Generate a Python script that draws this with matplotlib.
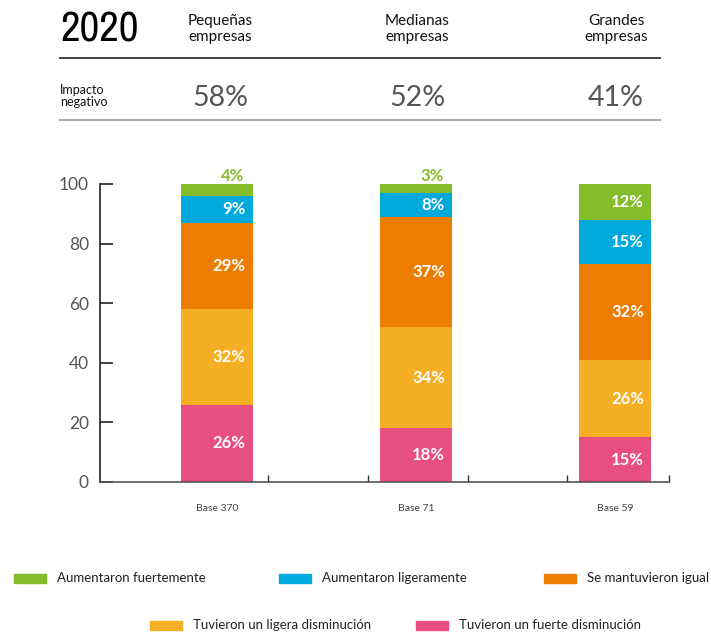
import matplotlib
matplotlib.use("Agg")
import matplotlib.pyplot as plt
from matplotlib.patches import Rectangle
from matplotlib.lines import Line2D
from matplotlib import font_manager
import numpy as np

plt.rcParams['font.family'] = ['Lato', 'DejaVu Sans']

# --- data -------------------------------------------------------------
year = "2020"
companies = ["Pequeñas\nempresas", "Medianas\nempresas", "Grandes\nempresas"]
negative_impact = [58, 52, 41]
bases = ["Base 370", "Base 71", "Base 59"]

series_names = [
    "Tuvieron un fuerte disminución",
    "Tuvieron un ligera disminución",
    "Se mantuvieron igual",
    "Aumentaron ligeramente",
    "Aumentaron fuertemente",
]
series_values = [
    [26, 18, 15],   # fuerte disminución
    [32, 34, 26],   # ligera disminución
    [29, 37, 32],   # se mantuvieron igual
    [9, 8, 15],     # aumentaron ligeramente
    [4, 3, 12],     # aumentaron fuertemente
]
series_colors = ["#E64F7F", "#F5AF25", "#EC7D00", "#00A9DB", "#84BC2C"]
y_ticks = [0, 20, 40, 60, 80, 100]

# pick a condensed bold face for the year, if one is installed
condensed = [f.name for f in font_manager.fontManager.ttflist
             if ("Condensed" in f.name or "Narrow" in f.name)]
year_family = (condensed[:1] or []) + ["DejaVu Sans"]

# --- figure -----------------------------------------------------------
W, H = 711, 634
fig = plt.figure(figsize=(W / 100, H / 100), dpi=100)

def fx(px):
    return px / W

def fy(py):
    return 1 - py / H

ax = fig.add_axes([fx(100), fy(482), fx(669) - fx(100), fy(184) - fy(482)])

x = np.arange(len(companies))
bar_w = 0.36
bottom = np.zeros(len(companies))
for name, vals, col in zip(series_names, series_values, series_colors):
    vals = np.array(vals, dtype=float)
    ax.bar(x, vals, bar_w, bottom=bottom, color=col, linewidth=0, zorder=2)
    for xi, v, b in zip(x, vals, bottom):
        label = f"{int(v)}%"
        if v < 6:
            ax.annotate(label, (xi + bar_w / 2, b + v), xytext=(-6, 6),
                        textcoords="offset points", ha="right", va="center",
                        color=col, fontsize=12, fontweight="bold", zorder=3,
                        annotation_clip=False)
        else:
            ax.annotate(label, (xi + bar_w / 2, b + v / 2), xytext=(-5, 0),
                        textcoords="offset points", ha="right", va="center",
                        color="white", fontsize=12, fontweight="bold", zorder=3)
    bottom += vals

ax.set_xlim(-0.586, 2.27)
ax.set_ylim(0, 100)

for s in ["top", "right"]:
    ax.spines[s].set_visible(False)
ax.spines["left"].set_color("#222222")
ax.spines["bottom"].set_color("#555555")
ax.spines["left"].set_linewidth(1.2)
ax.spines["bottom"].set_linewidth(1.2)

ax.set_yticks(y_ticks)
ax.tick_params(axis="y", direction="in", length=9, width=1.2, color="#222222",
               labelsize=12.5, labelcolor="#555555", pad=8)

ax.set_xticks(x)
ax.set_xticklabels(bases)
ax.tick_params(axis="x", which="major", length=0, labelsize=7.5,
               labelcolor="#444444", pad=16)
ax.set_xticks([0.256, 0.757, 1.26, 1.76, 2.27], minor=True)
ax.tick_params(axis="x", which="minor", direction="in", length=5, width=1,
               color="#333333")

# --- header -----------------------------------------------------------
fig.text(fx(60), fy(29), year, fontsize=31, fontweight="heavy",
         family=year_family, fontstretch="condensed",
         ha="left", va="center", color="#000000")
for name, cx in zip(companies, [220, 417, 616]):
    fig.text(fx(cx), fy(29), name, fontsize=11, ha="center", va="center",
             color="#111111", linespacing=1.1)
fig.add_artist(Line2D([fx(60), fx(660)], [fy(58), fy(58)],
                      color="#333333", lw=1.3, transform=fig.transFigure))
fig.text(fx(60), fy(96), "Impacto\nnegativo", fontsize=9, ha="left",
         va="center", color="#111111", linespacing=1.1)
for val, cx in zip(negative_impact, [220, 417, 616]):
    fig.text(fx(cx), fy(98), f"{val}%", fontsize=20.5, ha="center",
             va="center", color="#555555")
fig.add_artist(Line2D([fx(60), fx(660)], [fy(120), fy(120)],
                      color="#aaaaaa", lw=1.5, transform=fig.transFigure))

# --- legend -----------------------------------------------------------
legend_layout = [
    (4, 14, 578),
    (3, 279, 578),
    (2, 544, 578),
    (1, 150, 625),
    (0, 416, 625),
]
sw, sh = 32, 9
for idx, px, py in legend_layout:
    fig.add_artist(Rectangle((fx(px), fy(py + sh / 2)), sw / W, sh / H,
                             color=series_colors[idx],
                             transform=fig.transFigure))
    fig.text(fx(px + sw + 11), fy(py), series_names[idx], fontsize=9.5,
             ha="left", va="center", color="#222222")

fig.savefig("out.png", dpi=100)
